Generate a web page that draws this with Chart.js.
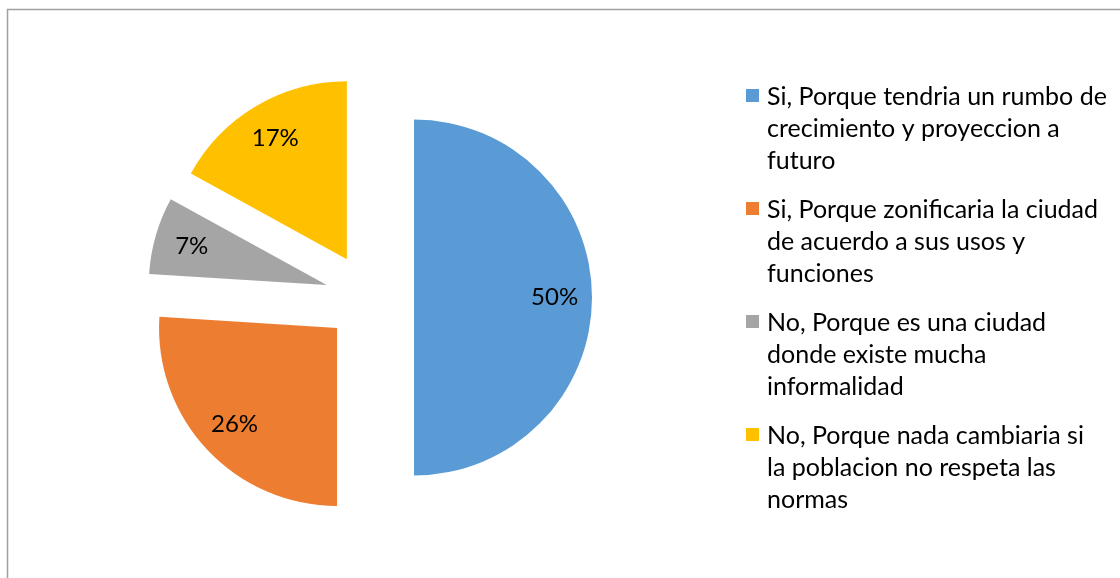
<!DOCTYPE html>
<html>
<head>
<meta charset="utf-8">
<script src="https://cdn.jsdelivr.net/npm/chart.js@4/dist/chart.umd.min.js"></script>
<style>
	html, body { margin: 0; padding: 0; background: #fff; }
	#wrap { position: relative; width: 1120px; height: 578px; }
</style>
</head>
<body>
<div id="wrap"><canvas id="pieChart" width="1120" height="578"></canvas></div>
<script>
// answers, one array per legend line
const labels = [
	['Si, Porque tendria un rumbo de', 'crecimiento y proyeccion a', 'futuro'],
	['Si, Porque zonificaria la ciudad', 'de acuerdo a sus usos y', 'funciones'],
	['No, Porque es una ciudad', 'donde existe mucha', 'informalidad'],
	['No, Porque nada cambiaria si', 'la poblacion no respeta las', 'normas']
];
const percents = [50, 26, 7, 17];
const colors = ['#5B9BD5', '#ED7D31', '#A5A5A5', '#FFC000'];

const FONT = 'Lato, "Noto Sans", sans-serif';

// pull every slice away from the centre
const explodePlugin = {
	id: 'explode',
	afterDatasetUpdate: (chart, args, opts) => {
		args.meta.data.forEach((arc) => {
			const mid = (arc.startAngle + arc.endAngle) / 2;
			arc.x += Math.cos(mid) * opts.distance;
			arc.y += Math.sin(mid) * opts.distance;
		});
	}
};

const frameAndLabels = {
	id: 'frameAndLabels',
	beforeDraw: (chart) => {
		const ctx = chart.ctx;
		ctx.save();
		ctx.strokeStyle = '#A0A0A0';
		ctx.lineWidth = 1.5;
		ctx.strokeRect(7.5, 9.5, 2000, 2000);
		ctx.restore();
	},
	afterDatasetsDraw: (chart) => {
		const ctx = chart.ctx;
		const meta = chart.getDatasetMeta(0);
		ctx.save();
		ctx.font = '24px ' + FONT;
		ctx.fillStyle = '#000';
		ctx.textAlign = 'center';
		ctx.textBaseline = 'middle';
		meta.data.forEach((arc, i) => {
			const mid = (arc.startAngle + arc.endAngle) / 2;
			const r = arc.outerRadius * 0.79;
			ctx.fillText(percents[i] + '%', arc.x + Math.cos(mid) * r, arc.y + Math.sin(mid) * r);
		});

		// legend on the right
		const x0 = 746;
		let y = 97;
		ctx.font = '25px ' + FONT;
		ctx.textAlign = 'left';
		labels.forEach((lines, i) => {
			ctx.fillStyle = colors[i];
			ctx.fillRect(x0, y - 8, 13, 13);
			ctx.fillStyle = '#000';
			lines.forEach((line, j) => {
				ctx.fillText(line, x0 + 21, y + j * 32);
			});
			y += lines.length * 32 + 17;
		});
		ctx.restore();
	}
};

const pieCanvas = document.getElementById('pieChart');

const pieChart = new Chart(pieCanvas, {
	type: 'pie',
	data: {
		labels: labels,
		datasets: [
			{
				data: percents,
				backgroundColor: colors,
				borderWidth: 0,
				offset: 0
			}
		]
	},
	options: {
		responsive: false,
		animation: false,
		radius: 178,
		layout: { padding: { left: 0, right: 381, top: 17, bottom: 0 } },
		plugins: {
			legend: { display: false },
			tooltip: { enabled: false },
			explode: { distance: 44.5 }
		}
	},
	plugins: [explodePlugin, frameAndLabels]
});
</script>
</body>
</html>
